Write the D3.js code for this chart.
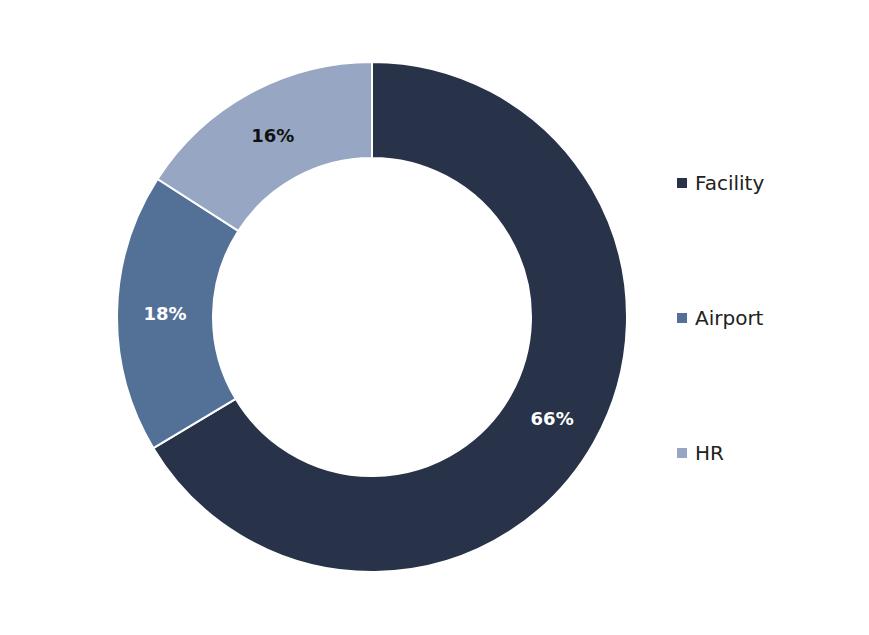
<!DOCTYPE html>
<html><head><meta charset="utf-8">
<script src="https://cdn.jsdelivr.net/npm/d3@7"></script>
<style>body{margin:0;background:#fff}svg{display:block}</style>
</head><body>
<script>
const categories = ["Facility", "Airport", "HR"];
const values = [66.4, 17.7, 15.9];
const colors = ["#283249", "#537197", "#97A7C3"];
const labelColors = ["#ffffff", "#ffffff", "#111111"];

const W = 869, H = 635, cx = 372, cy = 317, rOut = 255, rIn = 159;
const font = "'Century Gothic', 'DejaVu Sans', sans-serif";
const svg = d3.select("body").append("svg").attr("width", W).attr("height", H);
const g = svg.append("g").attr("transform", `translate(${cx},${cy})`);
const pie = d3.pie().sort(null).value(d => d)(values);
const arc = d3.arc().innerRadius(rIn).outerRadius(rOut);
g.selectAll("path").data(pie).enter().append("path")
  .attr("d", arc).attr("fill", (d, i) => colors[i])
  .attr("stroke", "#fff").attr("stroke-width", 2);
g.selectAll("text").data(pie).enter().append("text")
  .attr("transform", d => `translate(${arc.centroid(d)})`)
  .attr("text-anchor", "middle").attr("dy", "0.36em")
  .attr("font-family", font).attr("font-weight", "bold").attr("font-size", 18)
  .attr("fill", (d, i) => labelColors[i])
  .text(d => Math.round(d.value) + "%");

const legY = d3.scalePoint().domain(categories).range([183, 453]);
const leg = svg.append("g");
categories.forEach((c, i) => {
  leg.append("rect").attr("x", 677).attr("y", legY(c) - 5).attr("width", 10).attr("height", 10).attr("fill", colors[i]);
  leg.append("text").attr("x", 695).attr("y", legY(c)).attr("dy", "0.36em")
    .attr("font-family", font).attr("font-size", 20).attr("fill", "#222").text(c);
});
</script>
</body></html>
